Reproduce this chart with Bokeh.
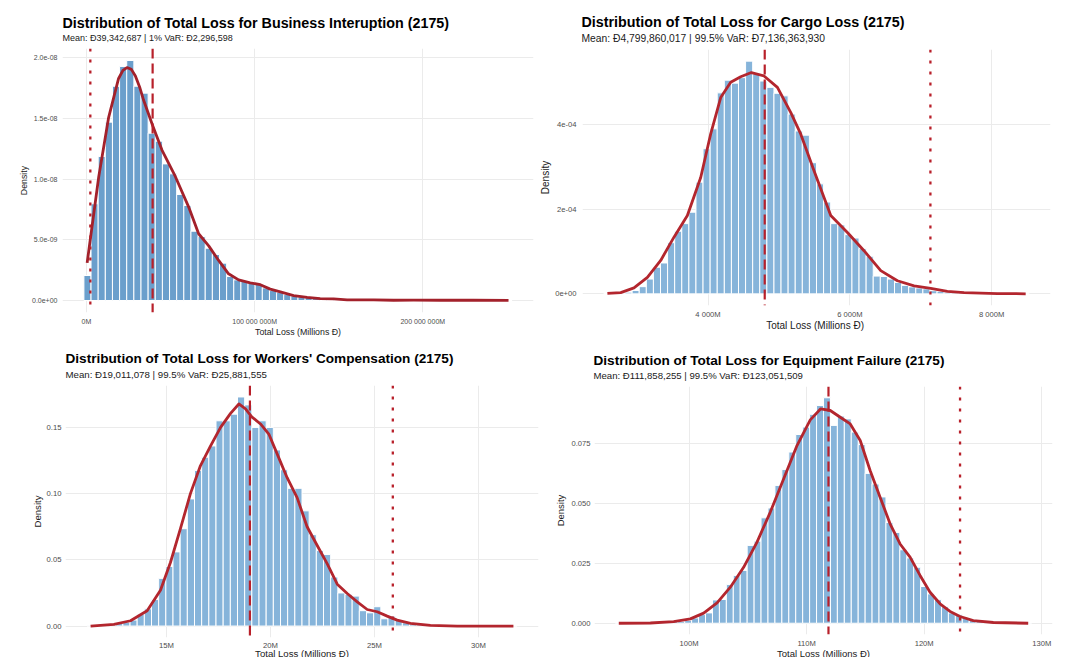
import numpy as np
from bokeh.plotting import figure
from bokeh.models import Range1d, FixedTicker, Span, Title
from bokeh.layouts import column, row
from bokeh.embed import file_html
from bokeh.resources import INLINE

FONT = "Liberation Sans"

# ---------------- Business Interuption (x in Đ, density per Đ) ----------------
BI_TITLE = "Distribution of Total Loss for Business Interuption (2175)"
BI_SUBTITLE = "Mean: Đ39,342,687 | 1% VaR: Đ2,296,598"
BI_XLABEL = "Total Loss (Millions Đ)"
BI_MEAN = 39342687
BI_VAR = 2296598
BI_MIN_M, BI_MAX_M = 0.6, 251.0
BI_DENSITY_E9 = [2.06, 7.97, 11.87, 14.7, 17.66, 19.29, 19.78, 17.66, 17.09, 13.79,
                 13.13, 11.26, 10.44, 8.74, 7.83, 5.71, 5.27, 4.31, 3.79, 3.08,
                 1.98, 1.70, 1.60, 1.43, 1.32, 1.04, 0.82, 0.69, 0.49, 0.38,
                 0.30, 0.25, 0.22, 0.19, 0.19, 0.16, 0.08, 0.05, 0.05, 0.04,
                 0.03, 0.03, 0.02, 0.02, 0.02, 0.01, 0.01, 0.02, 0.01, 0.01,
                 0.01, 0.01, 0.005, 0.01, 0.005, 0.005, 0.005, 0.005, 0.005, 0.005]
BI_CURVE_X_M = [0.4, 7.3, 13.2, 19.1, 21.7, 24.1, 26.7, 29.1, 31.6, 34.0, 39.4, 44.9,
                52.9, 60.8, 66.7, 72.7, 78.6, 84.5, 90.5, 97.4, 103.4, 109.3, 115.3,
                123.2, 131.2, 139.0, 147.0, 155.0, 170.8, 182.6, 194.5, 210.4, 230.0, 251.0]
BI_CURVE_Y_E9 = [3.1, 10.2, 15.1, 18.3, 18.96, 19.2, 19.05, 18.5, 17.6, 16.5, 14.4, 12.4,
                 10.2, 7.7, 5.5, 4.5, 3.3, 2.2, 1.7, 1.46, 1.3, 0.94, 0.71,
                 0.41, 0.25, 0.16, 0.14, 0.05, 0.05, 0.02, 0.03, 0.02, 0.02, 0.01]
BI_XTICKS = [0, 100_000_000, 200_000_000]
BI_XTICK_LABELS = ["0M", "100 000 000M", "200 000 000M"]
BI_YTICKS = [0.0, 5e-9, 1e-8, 1.5e-8, 2e-8]
BI_YTICK_LABELS = ["0.0e+00", "5.0e-09", "1.0e-08", "1.5e-08", "2.0e-08"]

# ---------------- Cargo Loss (x in millions Đ) ----------------
CG_TITLE = "Distribution of Total Loss for Cargo Loss (2175)"
CG_SUBTITLE = "Mean:  Đ4,799,860,017 | 99.5% VaR:  Đ7,136,363,930"
CG_XLABEL = "Total Loss (Millions  Đ)"
CG_MEAN_M = 4799.860017
CG_VAR_M = 7136.363930
CG_MIN_M, CG_MAX_M = 2580.0, 8480.0
CG_DENSITY_E5 = [0.05, 0.1, 0.2, 0.4, 0.8, 1.7, 3.5, 6.3, 7.3, 12.1,
                 14.8, 16.6, 19.3, 26.4, 34.3, 39.0, 47.5, 50.5, 49.8, 51.1,
                 55.0, 52.0, 50.3, 48.8, 47.4, 46.8, 42.5, 38.5, 37.5, 31.0,
                 26.0, 21.7, 16.6, 16.3, 14.0, 13.2, 10.7, 8.9, 4.2, 4.1,
                 3.5, 2.7, 2.0, 1.65, 1.4, 1.2, 0.75, 0.6, 0.4, 0.3,
                 0.25, 0.2, 0.15, 0.12, 0.1, 0.08, 0.06, 0.04, 0.03, 0.02]
CG_CURVE_X_M = [2581, 2769, 2956, 3145, 3333, 3520, 3709, 3897, 4038, 4179, 4320, 4461,
                4612, 4790, 4979, 5166, 5307, 5495, 5731, 5966, 6200, 6436, 6671,
                6906, 7141, 7376, 7611, 8082, 8480]
CG_CURVE_Y_E5 = [0.1, 0.3, 1.4, 3.9, 7.9, 13.4, 18.5, 27.5, 37.8, 46.4, 50.0, 51.3,
                 52.3, 51.5, 48.8, 42.9, 37.8, 29.1, 18.5, 14.5, 10.2, 5.5, 3.1,
                 1.9, 1.3, 0.6, 0.3, 0.07, 0.02]
CG_XTICKS = [4000, 6000, 8000]
CG_XTICK_LABELS = ["4 000M", "6 000M", "8 000M"]
CG_YTICKS = [0.0, 2e-4, 4e-4]
CG_YTICK_LABELS = ["0e+00", "2e-04", "4e-04"]

# ---------------- Workers' Compensation (x in millions Đ) ----------------
WC_TITLE = "Distribution of Total Loss for Workers' Compensation (2175)"
WC_SUBTITLE = "Mean: Đ19,011,078 | 99.5% VaR: Đ25,881,555"
WC_XLABEL = "Total Loss (Millions Đ)"
WC_MEAN_M = 19.011078
WC_VAR_M = 25.881555
WC_MIN_M, WC_MAX_M = 11.35, 31.68
WC_DENSITY = [0.0002, 0.0003, 0.0005, 0.001, 0.002, 0.003, 0.0045, 0.009, 0.013, 0.020,
              0.036, 0.045, 0.056, 0.0735, 0.096, 0.1175, 0.1275, 0.136, 0.155, 0.155,
              0.160, 0.173, 0.167, 0.150, 0.155, 0.150, 0.133, 0.118, 0.104, 0.104,
              0.087, 0.069, 0.057, 0.054, 0.037, 0.025, 0.024, 0.0226, 0.0116, 0.010,
              0.0146, 0.0055, 0.0075, 0.0042, 0.0025, 0.0015, 0.001, 0.0008, 0.0005, 0.0004,
              0.0003, 0.0002, 0.0002, 0.0001, 0.0001, 0.0001, 0.0, 0.0001, 0.0, 0.0001]
WC_CURVE_X_M = [11.35, 12.47, 13.27, 14.07, 14.71, 15.19, 15.67, 16.15, 16.63, 17.12,
                17.60, 18.08, 18.48, 18.80, 19.10, 19.52, 19.92, 20.32, 20.80, 21.28,
                21.76, 22.24, 22.73, 23.21, 23.69, 24.17, 24.65, 25.13, 25.61, 26.09,
                26.73, 27.69, 28.98, 31.68]
WC_CURVE_Y = [0.0, 0.0013, 0.004, 0.0115, 0.027, 0.048, 0.0735, 0.100, 0.121, 0.136,
              0.150, 0.1606, 0.1677, 0.164, 0.158, 0.1526, 0.145, 0.130, 0.112, 0.097,
              0.075, 0.061, 0.047, 0.0316, 0.0246, 0.0183, 0.0125, 0.0108, 0.0075, 0.0045,
              0.002, 0.0005, 0.0, 0.0]
WC_XTICKS = [15, 20, 25, 30]
WC_XTICK_LABELS = ["15M", "20M", "25M", "30M"]
WC_YTICKS = [0.0, 0.05, 0.10, 0.15]
WC_YTICK_LABELS = ["0.00", "0.05", "0.10", "0.15"]

# ---------------- Equipment Failure (x in millions Đ) ----------------
EF_TITLE = "Distribution of Total Loss for Equipment Failure (2175)"
EF_SUBTITLE = "Mean: Đ111,858,255 | 99.5% VaR: Đ123,051,509"
EF_XLABEL = "Total Loss (Millions Đ)"
EF_MEAN_M = 111.858255
EF_VAR_M = 123.051509
EF_MIN_M, EF_MAX_M = 94.02, 128.85
EF_DENSITY = [0.0001, 0.0001, 0.0001, 0.0002, 0.0002, 0.0003, 0.0004, 0.0005, 0.0007, 0.0008,
              0.0012, 0.0022, 0.0036, 0.0043, 0.0097, 0.0099, 0.0161, 0.0199, 0.0220, 0.0324,
              0.0342, 0.0439, 0.0480, 0.0574, 0.0640, 0.0713, 0.0786, 0.0817, 0.0870, 0.0907,
              0.0939, 0.0824, 0.0863, 0.0851, 0.0796, 0.0744, 0.0624, 0.0580, 0.0526, 0.0420,
              0.0378, 0.0306, 0.0272, 0.0233, 0.0153, 0.0122, 0.0098, 0.0069, 0.0043, 0.0035,
              0.0020, 0.0014, 0.0010, 0.0007, 0.0005, 0.0003, 0.0002, 0.0001, 0.0001, 0.0001]
EF_CURVE_X_M = [94.02, 96.71, 98.69, 100.11, 101.24, 102.38, 103.51, 104.64, 105.78, 106.91,
                108.04, 109.18, 110.31, 111.2, 112.01, 112.86, 113.71, 114.56, 115.40, 116.25,
                117.10, 117.95, 118.80, 119.65, 120.50, 121.35, 122.20, 123.05, 124.18, 125.88,
                128.85]
EF_CURVE_Y = [0.0, 0.0001, 0.0007, 0.0018, 0.0042, 0.0085, 0.015, 0.0233, 0.0338, 0.0463,
              0.0601, 0.074, 0.0847, 0.0893, 0.0886, 0.0858, 0.083, 0.0761, 0.0636, 0.0525,
              0.0414, 0.033, 0.0275, 0.0199, 0.0129, 0.0081, 0.0049, 0.0028, 0.0011, 0.0003,
              0.0]
EF_XTICKS = [100, 110, 120, 130]
EF_XTICK_LABELS = ["100M", "110M", "120M", "130M"]
EF_YTICKS = [0.0, 0.025, 0.050, 0.075]
EF_YTICK_LABELS = ["0.000", "0.025", "0.050", "0.075"]

LINE_RED = "#B3262E"
VLINE_RED = "#B8202A"
GRID = "#EBEBEB"


def density_panel(title, subtitle, xlabel, lo, hi, dens, cx, cy, mean, var,
                  xticks, xlabels, yticks, ylabels, bar_color, curve_color,
                  width, height, borders, sizes, title_gaps, standoffs):
    title_size, sub_size, tick_size, label_size = sizes
    title_dx, sub_gap, head_gap, xlab_gap = title_gaps
    xtick_so, ytick_so, ylab_so = standoffs

    dens = np.asarray(dens, dtype=float)
    n = len(dens)
    bw = (hi - lo) / (n - 1)
    centers = lo + bw * np.arange(n)
    left, right = centers - bw / 2, centers + bw / 2
    span = right[-1] - left[0]
    top = max(dens.max(), max(cy))

    p = figure(width=width, height=height, output_backend="svg", toolbar_location=None,
               title_location=None,
               x_range=Range1d(left[0] - 0.05 * span, right[-1] + 0.05 * span),
               y_range=Range1d(-0.05 * top, 1.05 * top),
               min_border_left=borders[0], min_border_right=borders[1],
               min_border_top=borders[2], min_border_bottom=borders[3])
    p.frame_align = False
    p.outline_line_color = None
    p.background_fill_color = "white"

    p.quad(left=left, right=right, bottom=0, top=dens,
           fill_color=bar_color, line_color="white", line_width=1)
    p.line(cx, cy, line_color=curve_color, line_width=2.8, line_join="round")

    p.add_layout(Span(location=mean, dimension="height", line_color=VLINE_RED,
                      line_width=2.2, line_dash="10 5"))
    p.add_layout(Span(location=var, dimension="height", line_color=VLINE_RED,
                      line_width=2.3, line_dash="3 8"))

    # subheading sits next to the frame, heading above it
    p.add_layout(Title(text=subtitle, text_font=FONT, text_font_size=sub_size,
                       text_font_style="normal", text_color="#1a1a1a",
                       align="left", offset=title_dx, standoff=sub_gap), "above")
    p.add_layout(Title(text=title, text_font=FONT, text_font_size=title_size,
                       text_font_style="bold", text_color="#000000",
                       align="left", offset=title_dx, standoff=head_gap), "above")
    # x-axis title below the tick labels
    p.add_layout(Title(text=xlabel, text_font=FONT, text_font_size=label_size,
                       text_font_style="normal", text_color="#1a1a1a",
                       align="center", vertical_align="middle", standoff=xlab_gap), "below")

    p.xaxis.ticker = FixedTicker(ticks=xticks)
    p.xaxis.major_label_overrides = dict(zip(xticks, xlabels))
    p.yaxis.ticker = FixedTicker(ticks=yticks)
    p.yaxis.major_label_overrides = dict(zip(yticks, ylabels))
    p.xgrid.ticker = FixedTicker(ticks=xticks)
    p.ygrid.ticker = FixedTicker(ticks=yticks)
    p.grid.grid_line_color = GRID
    p.grid.grid_line_width = 1

    p.yaxis.axis_label = "Density"
    for ax in (p.xaxis[0], p.yaxis[0]):
        ax.axis_line_color = None
        ax.major_tick_line_color = None
        ax.minor_tick_line_color = None
        ax.major_tick_out = 0
        ax.major_tick_in = 0
        ax.major_label_text_font = FONT
        ax.major_label_text_font_size = tick_size
        ax.major_label_text_color = "#4d4d4d"
        ax.axis_label_text_font = FONT
        ax.axis_label_text_font_style = "normal"
        ax.axis_label_text_font_size = label_size
        ax.axis_label_text_color = "#1a1a1a"
    p.xaxis.major_label_standoff = xtick_so
    p.yaxis.major_label_standoff = ytick_so
    p.yaxis.axis_label_standoff = ylab_so
    return p


p1 = density_panel(BI_TITLE, BI_SUBTITLE, BI_XLABEL,
                   BI_MIN_M * 1e6, BI_MAX_M * 1e6,
                   [v * 1e-9 for v in BI_DENSITY_E9],
                   [v * 1e6 for v in BI_CURVE_X_M], [v * 1e-9 for v in BI_CURVE_Y_E9],
                   BI_MEAN, BI_VAR, BI_XTICKS, BI_XTICK_LABELS, BI_YTICKS, BI_YTICK_LABELS,
                   "#6B9FCC", "#A3212B", 536, 340, (62, 3, 48, 28),
                   ("14.3px", "9px", "7px", "8.8px"), (0, 10.5, -10.5, -3.2), (5, 5, 0))

p2 = density_panel(CG_TITLE, CG_SUBTITLE, CG_XLABEL, CG_MIN_M, CG_MAX_M,
                   [v * 1e-5 for v in CG_DENSITY_E5],
                   CG_CURVE_X_M, [v * 1e-5 for v in CG_CURVE_Y_E5],
                   CG_MEAN_M, CG_VAR_M, CG_XTICKS, CG_XTICK_LABELS, CG_YTICKS, CG_YTICK_LABELS,
                   "#86B4DA", LINE_RED, 544, 340, (46, 30, 49, 35),
                   ("14.3px", "10.3px", "7.6px", "10px"), (-1, 10.2, -6.3, -5.9), (4, 6, 1))

p3 = density_panel(WC_TITLE, WC_SUBTITLE, WC_XLABEL, WC_MIN_M, WC_MAX_M, WC_DENSITY,
                   WC_CURVE_X_M, WC_CURVE_Y, WC_MEAN_M, WC_VAR_M,
                   WC_XTICKS, WC_XTICK_LABELS, WC_YTICKS, WC_YTICK_LABELS,
                   "#86B4DA", LINE_RED, 540, 317, (65, 2, 45, 20),
                   ("13.6px", "9.7px", "7.7px", "9.6px"), (0, 10.5, -9.0, -12.0), (3, 4, 1))

p4 = density_panel(EF_TITLE, EF_SUBTITLE, EF_XLABEL, EF_MIN_M, EF_MAX_M, EF_DENSITY,
                   EF_CURVE_X_M, EF_CURVE_Y, EF_MEAN_M, EF_VAR_M,
                   EF_XTICKS, EF_XTICK_LABELS, EF_YTICKS, EF_YTICK_LABELS,
                   "#86B4DA", LINE_RED, 540, 317, (54, 28, 46, 23),
                   ("13.6px", "9.6px", "7.6px", "9.5px"), (-1, 11.0, -10.6, -8.0), (4, 4, 2))

layout = column(row(p1, p2), row(p3, p4))

open("out.html", "w").write(file_html(layout, INLINE))
